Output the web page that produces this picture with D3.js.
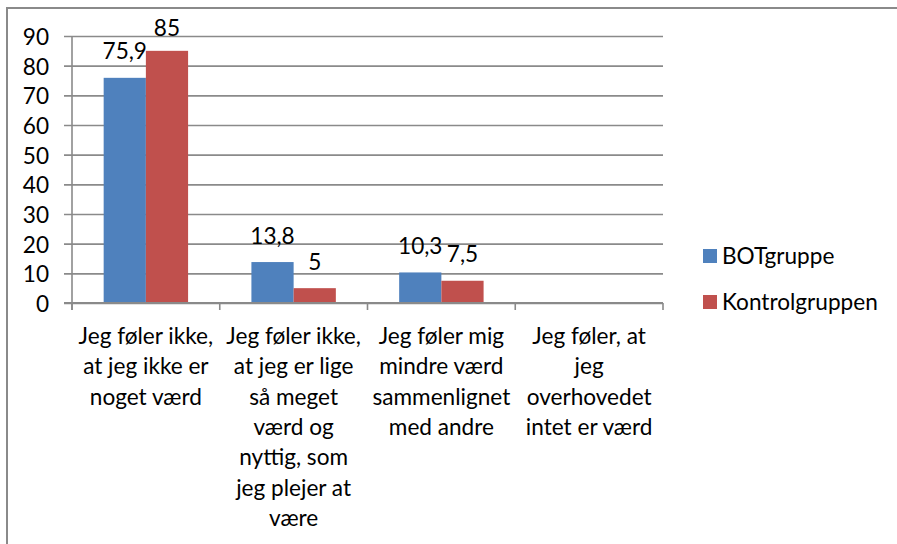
<!DOCTYPE html>
<html>
<head>
<meta charset="utf-8">
<script src="https://cdn.jsdelivr.net/npm/d3@7"></script>
<style>
  html, body { margin: 0; padding: 0; background: #fff; }
  svg { display: block; }
  text { font-family: Lato, "Open Sans", sans-serif; fill: #000; }
</style>
</head>
<body>
<svg id="chart" width="897" height="544"></svg>
<script>
// Survey answers (percent of respondents)
const categories = [
  "Jeg føler ikke,\nat jeg ikke er\nnoget værd",
  "Jeg føler ikke,\nat jeg er lige\nså meget\nværd og\nnyttig, som\njeg plejer at\nvære",
  "Jeg føler mig\nmindre værd\nsammenlignet\nmed andre",
  "Jeg føler, at\njeg\noverhovedet\nintet er værd"
];
const seriesNames = ["BOTgruppe", "Kontrolgruppen"];
const botValues = [75.9, 13.8, 10.3, null];
const kontrolValues = [85, 5, 7.5, null];
const yTicks = [0, 10, 20, 30, 40, 50, 60, 70, 80, 90];
const colors = ["#4F81BD", "#C0504D"];

const series = [botValues, kontrolValues];
const fmt = v => String(v).replace(".", ",");

const svg = d3.select("#chart");
const W = 897, H = 544;
const plot = { left: 72, right: 663, top: 36, bottom: 303 };
const fontSize = 22.6;
const gridColor = "#8a8a8a";

// Outer chart frame (top and left edges)
svg.append("path")
  .attr("d", `M7,${H} L7,8 L${W},8`)
  .attr("fill", "none")
  .attr("stroke", gridColor)
  .attr("stroke-width", 2);

const x = d3.scaleBand().domain(d3.range(categories.length))
  .range([plot.left, plot.right]).paddingInner(0).paddingOuter(0);
const xs = d3.scaleBand().domain(d3.range(series.length))
  .range([0, x.bandwidth()]).paddingInner(0).paddingOuter(0.75);
const y = d3.scaleLinear().domain([0, 90]).range([plot.bottom, plot.top]);

// Horizontal gridlines with value axis labels
const yAxis = d3.axisLeft(y).tickValues(yTicks)
  .tickSize(-(plot.right - plot.left)).tickSizeOuter(0).tickPadding(23);
const gy = svg.append("g").attr("transform", `translate(${plot.left},0)`).call(yAxis);
gy.select(".domain").remove();
gy.selectAll(".tick line")
  .attr("x1", -8)
  .attr("stroke", gridColor).attr("stroke-width", 1.6);
gy.selectAll(".tick text")
  .attr("font-size", fontSize).attr("font-family", "Lato").attr("fill", "#000")
  .attr("dy", "0.38em");

// Bars
series.forEach((vals, si) => {
  svg.append("g").selectAll("rect")
    .data(vals.map((v, i) => ({ v, i })).filter(d => d.v !== null))
    .join("rect")
    .attr("x", d => x(d.i) + xs(si))
    .attr("width", xs.bandwidth())
    .attr("y", d => y(d.v))
    .attr("height", d => y(0) - y(d.v))
    .attr("fill", colors[si]);
});

// Value labels above bars
series.forEach((vals, si) => {
  svg.append("g").selectAll("text")
    .data(vals.map((v, i) => ({ v, i })).filter(d => d.v !== null))
    .join("text")
    .attr("x", d => x(d.i) + xs(si) + xs.bandwidth() / 2)
    .attr("y", d => Math.max(y(d.v) - 18.5, 36))
    .attr("text-anchor", "middle")
    .attr("font-size", fontSize)
    .text(d => fmt(d.v));
});

// Category axis: baseline, value axis line and tick marks
svg.append("line")
  .attr("x1", plot.left).attr("x2", plot.left)
  .attr("y1", plot.top).attr("y2", plot.bottom + 7)
  .attr("stroke", gridColor).attr("stroke-width", 1.6);
svg.append("line")
  .attr("x1", plot.left - 8).attr("x2", plot.right)
  .attr("y1", plot.bottom).attr("y2", plot.bottom)
  .attr("stroke", gridColor).attr("stroke-width", 1.8);
svg.append("g").selectAll("line")
  .data(d3.range(categories.length + 1))
  .join("line")
  .attr("x1", i => plot.left + i * x.step())
  .attr("x2", i => plot.left + i * x.step())
  .attr("y1", plot.bottom).attr("y2", plot.bottom + 7)
  .attr("stroke", gridColor).attr("stroke-width", 1.6);

// Category labels, one tspan per line
const lineH = 30.3;
svg.append("g").selectAll("text")
  .data(categories)
  .join("text")
  .attr("text-anchor", "middle")
  .attr("font-size", fontSize)
  .each(function (c, i) {
    const t = d3.select(this);
    c.split("\n").forEach((line, k) => {
      t.append("tspan")
        .attr("x", x(i) + x.bandwidth() / 2)
        .attr("y", 344 + k * lineH)
        .text(line);
    });
  });

// Legend
const legend = svg.append("g");
seriesNames.forEach((name, si) => {
  const ly = 249 + si * 46;
  legend.append("rect")
    .attr("x", 703).attr("y", ly).attr("width", 14).attr("height", 14)
    .attr("fill", colors[si]);
  legend.append("text")
    .attr("x", 722).attr("y", ly + 14.5)
    .attr("font-size", fontSize)
    .text(name);
});
</script>
</body>
</html>
